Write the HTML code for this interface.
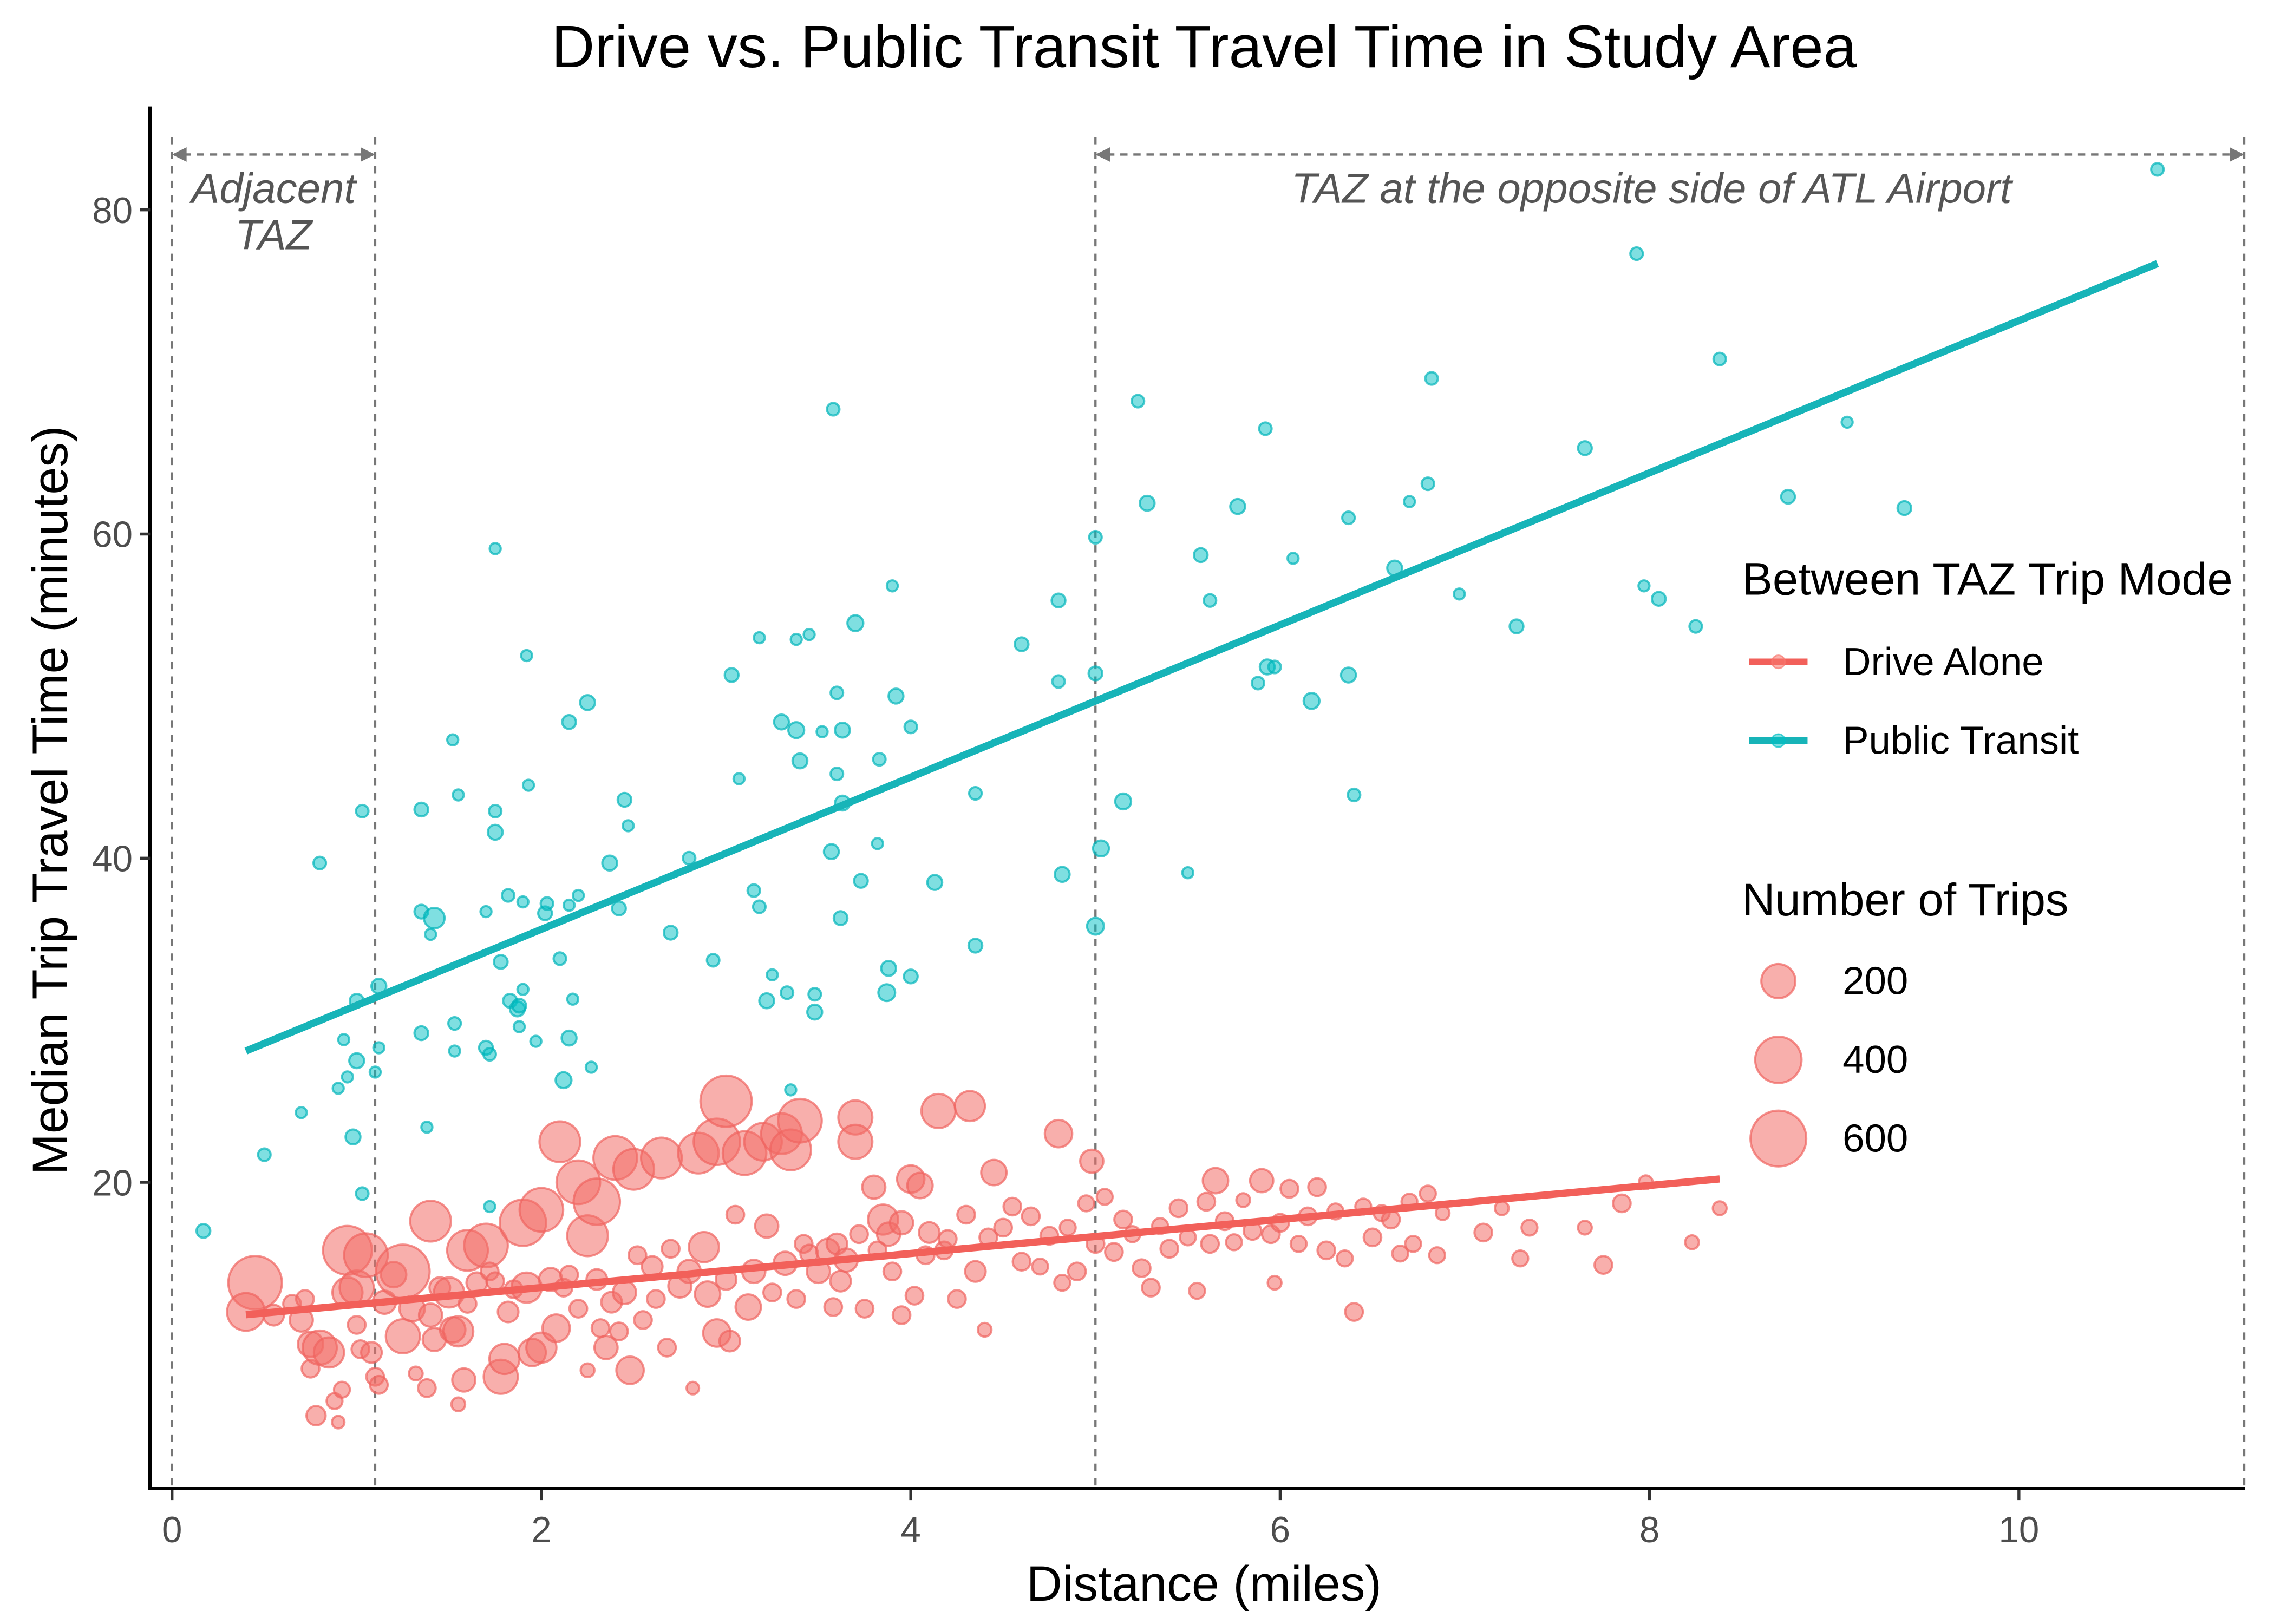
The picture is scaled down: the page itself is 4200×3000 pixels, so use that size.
<!DOCTYPE html>
<html><head><meta charset="utf-8"><style>
html,body{margin:0;padding:0;background:#fff;}
svg{display:block;font-family:"Liberation Sans",sans-serif;}
</style></head><body>
<svg id="chart" width="4200" height="3000" viewBox="0 0 1560 1114" preserveAspectRatio="none" xmlns="http://www.w3.org/2000/svg">
<rect width="1560" height="1114" fill="#fff"/>
<text x="826" y="46" font-size="41" text-anchor="middle" fill="#000">Drive vs. Public Transit Travel Time in Study Area</text>
<g id="plot"></g>
<line x1="103" y1="73" x2="103" y2="1022" stroke="#000" stroke-width="2.5"/>
<line x1="102" y1="1021" x2="1540" y2="1021" stroke="#000" stroke-width="2.5"/>
<g id="xticks"></g>
<g id="yticks"></g>
<text x="826" y="1098" font-size="34" text-anchor="middle">Distance (miles)</text>
<text transform="translate(46,549) rotate(-90)" font-size="34" text-anchor="middle">Median Trip Travel Time (minutes)</text>
<g>
<text x="1195" y="408" font-size="31.5">Between TAZ Trip Mode</text>
<g>
<line x1="1200" y1="454" x2="1240" y2="454" stroke="#F2605A" stroke-width="4.5"/>
<circle cx="1220" cy="454" r="4.5" fill="rgba(248,118,109,0.55)" stroke="rgba(248,118,109,0.7)"/>
<text x="1264" y="463" font-size="27">Drive Alone</text></g>
<g>
<line x1="1200" y1="508" x2="1240" y2="508" stroke="#17B4B8" stroke-width="4.5"/>
<circle cx="1220" cy="508" r="4.5" fill="rgba(0,191,196,0.5)" stroke="rgba(0,191,196,0.7)"/>
<text x="1264" y="517" font-size="27">Public Transit</text></g>
<text x="1195" y="628" font-size="31.5">Number of Trips</text>
<g id="sizeLegend"></g>
</g>
</svg>
<script>
const transitDist=[0.17,0.5,0.7,0.8,0.9,0.93,0.95,0.98,1.0,1.0,1.03,1.03,1.1,1.12,1.12,1.35,1.35,1.35,1.38,1.4,1.42,1.52,1.53,1.53,1.55,1.7,1.7,1.72,1.72,1.75,1.75,1.75,1.78,1.82,1.83,1.87,1.88,1.88,1.9,1.9,1.92,1.93,1.97,2.02,2.03,2.1,2.12,2.15,2.15,2.15,2.17,2.2,2.25,2.27,2.37,2.42,2.45,2.47,2.7,2.8,2.93,3.03,3.07,3.15,3.18,3.18,3.22,3.25,3.3,3.33,3.35,3.38,3.38,3.4,3.45,3.48,3.48,3.52,3.57,3.58,3.6,3.6,3.62,3.63,3.63,3.7,3.73,3.82,3.83,3.87,3.88,3.9,3.92,4.0,4.0,4.13,4.35,4.35,4.6,4.8,4.8,4.82,5.0,5.0,5.0,5.03,5.15,5.23,5.28,5.5,5.57,5.62,5.77,5.88,5.92,5.93,5.97,6.07,6.17,6.37,6.37,6.4,6.62,6.7,6.8,6.82,6.97,7.28,7.65,7.93,7.97,8.05,8.25,8.38,8.75,9.07,9.38,10.75];
const transitTime=[17,21.7,24.3,39.7,25.8,28.8,26.5,22.8,27.5,31.2,19.3,42.9,26.8,28.3,32.1,36.7,29.2,43,23.4,35.3,36.3,47.3,29.8,28.1,43.9,36.7,28.3,27.9,18.5,59.1,41.6,42.9,33.6,37.7,31.2,30.7,29.6,30.9,37.3,31.9,52.5,44.5,28.7,36.6,37.2,33.8,26.3,48.4,28.9,37.1,31.3,37.7,49.6,27.1,39.7,36.9,43.6,42,35.4,40,33.7,51.3,44.9,38,53.6,37,31.2,32.8,48.4,31.7,25.7,53.5,47.9,46,53.8,31.6,30.5,47.8,40.4,67.7,50.2,45.2,36.3,43.4,47.9,54.5,38.6,40.9,46.1,31.7,33.2,56.8,50,48.1,32.7,38.5,44,34.6,53.2,55.9,50.9,39,59.8,51.4,35.8,40.6,43.5,68.2,61.9,39.1,58.7,55.9,61.7,50.8,66.5,51.8,51.8,58.5,49.7,61,51.3,43.9,57.9,62,63.1,69.6,56.3,54.3,65.3,77.3,56.8,56,54.3,70.8,62.3,66.9,61.6,82.5];
const transitTrips=[20,15,10,15,10,10,10,25,25,20,15,15,10,10,25,20,20,20,10,10,60,10,15,10,10,10,20,15,10,10,25,15,20,15,20,25,10,20,10,10,10,10,10,20,15,15,30,20,25,10,10,10,25,10,25,20,20,10,20,15,15,20,10,15,10,15,25,10,25,15,10,10,30,25,10,15,25,10,25,15,15,15,20,25,25,30,20,10,15,35,25,10,25,15,20,25,15,20,20,20,15,25,15,20,35,30,30,15,25,10,20,15,25,15,15,25,15,10,30,15,25,15,25,10,15,15,10,20,20,15,10,20,15,15,20,10,20,15,20,10];
const driveDist=[0.45,0.4,0.55,0.65,0.7,0.72,0.75,0.75,0.8,0.78,0.85,0.88,0.9,0.92,0.95,0.95,1.0,1.0,1.02,1.05,1.08,1.1,1.12,1.15,1.2,1.25,1.25,1.3,1.32,1.38,1.4,1.4,1.42,1.45,1.5,1.52,1.55,1.55,1.58,1.6,1.6,1.65,1.7,1.72,1.75,1.78,1.8,1.82,1.85,1.9,1.92,1.95,2.0,2.0,2.05,2.08,2.1,2.12,2.15,2.2,2.2,2.25,2.25,2.3,2.3,2.32,2.35,2.38,2.4,2.42,2.45,2.48,2.5,2.52,2.55,2.6,2.62,2.65,2.68,2.7,2.75,2.8,2.82,2.85,2.88,2.9,2.95,2.95,3.0,3.0,3.02,3.05,3.1,3.12,3.15,3.2,3.22,3.25,3.3,3.32,3.35,3.38,3.4,3.42,3.45,3.5,3.55,3.58,3.6,3.62,3.65,3.7,3.7,3.72,3.75,3.8,3.82,3.85,3.88,3.9,3.95,3.95,4.0,4.02,4.05,4.08,4.1,4.15,4.18,4.2,4.25,4.3,4.32,4.35,4.4,4.42,4.45,4.5,4.55,4.6,4.65,4.7,4.75,4.8,4.82,4.85,4.9,4.95,4.98,5.0,5.05,5.1,5.15,5.2,5.25,5.3,5.35,5.4,5.45,5.5,5.55,5.6,5.62,5.65,5.7,5.75,5.8,5.85,5.9,5.95,5.97,6.0,6.05,6.1,6.15,6.2,6.25,6.3,6.35,6.4,6.45,6.5,6.55,6.6,6.65,6.7,6.72,6.8,6.85,6.88,7.1,7.2,7.3,7.35,7.65,7.75,7.85,7.98,8.23,8.38];
const driveTime=[13.8,12,11.8,12.5,11.5,12.8,10,8.5,9.8,5.6,9.5,6.5,5.2,7.2,15.8,13.2,13.5,11.2,9.7,15.5,9.5,8,7.5,12.6,14.3,14.5,10.5,12.2,8.2,7.3,17.6,11.8,10.3,13.5,13.2,10.9,10.8,6.3,7.8,15.8,12.5,13.8,16.1,14.5,13.9,8,9.1,12,13.4,17.5,13.5,9.5,18.3,9.8,14,11,22.5,13.5,14.3,20,12.2,16.7,8.4,18.8,14,11,9.8,12.6,21.5,10.8,13.2,8.4,20.8,15.5,11.5,14.8,12.8,21.5,9.8,15.9,13.6,14.5,7.3,21.8,16,13.1,22.5,10.7,25,14,10.2,18,21.8,12.3,14.5,22.5,17.3,13.2,23,15,22,12.8,23.8,16.2,15.6,14.5,15.8,12.3,16.2,13.9,15.2,24,22.5,16.8,12.2,19.7,15.8,17.7,16.8,14.5,17.5,11.8,20.2,13,19.8,15.5,16.9,24.4,15.8,16.5,12.8,18,24.7,14.5,10.9,16.6,20.6,17.2,18.5,15.1,17.9,14.8,16.7,23,13.8,17.2,14.5,18.7,21.3,16.2,19.1,15.7,17.7,16.8,14.7,13.5,17.3,15.9,18.4,16.6,13.3,18.8,16.2,20.1,17.6,16.3,18.9,17,20.1,16.8,13.8,17.5,19.6,16.2,17.9,19.7,15.8,18.2,15.3,12,18.5,16.6,18.1,17.7,15.6,18.8,16.2,19.3,15.5,18.1,16.9,18.4,15.3,17.2,17.2,14.9,18.7,20,16.3,18.4];
const driveTrips=[550,250,60,40,80,40,100,40,200,50,150,30,15,30,450,150,200,40,40,350,60,40,40,80,100,550,200,100,20,40,300,80,80,60,150,100,150,20,80,300,40,60,350,40,40,200,150,60,40,400,150,120,350,150,80,120,300,40,40,350,40,300,20,400,60,40,80,60,350,40,80,120,300,40,40,60,40,300,40,40,80,80,15,300,150,100,400,120,500,60,60,40,350,100,80,250,80,40,300,80,300,40,350,40,40,80,80,40,60,60,80,200,200,40,40,80,40,150,80,40,80,40,120,40,100,40,60,200,40,40,40,40,150,60,20,40,100,40,40,40,40,30,40,120,30,30,40,30,80,40,30,40,40,30,40,40,30,40,40,30,30,40,40,100,40,30,20,40,80,40,20,40,40,30,40,40,40,30,30,40,30,40,30,40,30,30,30,30,30,20,40,20,30,30,20,40,40,20,20,20];
const xTicks=[0,2,4,6,8,10];
const yTicks=[20,40,60,80];
const refLines=[0,1.1,5.0,11.22];
const sizeLegendValues=[200,400,600];

const NS="http://www.w3.org/2000/svg";
const X=v=>118+v*126.7;
const Y=v=>811-(v-20)*11.117;
const R=n=>1.5+0.72*Math.sqrt(n);
function mk(tag,attrs,parent){const e=document.createElementNS(NS,tag);for(const k in attrs)e.setAttribute(k,attrs[k]);parent.appendChild(e);return e;}
const plot=document.getElementById('plot');

refLines.forEach((v,i)=>{
 const l=mk('line',{x1:X(v),x2:X(v),y1:94,y2:1021,stroke:'#777','stroke-width':1.6,'stroke-dasharray':'5,5'},plot);
 
 
});
const ann=mk('g',{},plot);


function arrow(x1,x2,y){
 mk('line',{x1:x1+8,x2:x2-8,y1:y,y2:y,stroke:'#777','stroke-width':1.6,'stroke-dasharray':'5,4'},ann);
 mk('path',{d:`M${x1} ${y} l10 -5 v10 z M${x2} ${y} l-10 -5 v10 z`,fill:'#777'},ann);
}
arrow(X(0),X(1.1),106);
arrow(X(5.0),X(11.22),106);
const t1=mk('text',{x:(X(0)+X(1.1))/2,y:139,'font-size':29,'font-style':'italic','text-anchor':'middle',fill:'#555'},ann);t1.textContent='Adjacent';
const t2=mk('text',{x:(X(0)+X(1.1))/2,y:171,'font-size':29,'font-style':'italic','text-anchor':'middle',fill:'#555'},ann);t2.textContent='TAZ';
const t3=mk('text',{x:1133,y:139,'font-size':29,'font-style':'italic','text-anchor':'middle',fill:'#555'},ann);t3.textContent='TAZ at the opposite side of ATL Airport';

function drawSeries(dist,time,trips,fill,stroke,name){
 const g=mk('g',{},plot);
 
 
 dist.forEach((d,i)=>{
  const c=mk('circle',{cx:X(d),cy:Y(time[i]),r:R(trips[i]),fill:fill,stroke:stroke,'stroke-width':1.5},g);
  
  
 });
}
const fitStart=Math.min(...driveDist);
function fitLine(dist,time,color,name,x0,x1){
 const n=dist.length;let sx=0,sy=0,sxx=0,sxy=0;
 for(let i=0;i<n;i++){sx+=dist[i];sy+=time[i];sxx+=dist[i]*dist[i];sxy+=dist[i]*time[i];}
 const b=(n*sxy-sx*sy)/(n*sxx-sx*sx),a=(sy-b*sx)/n;
 const l=mk('line',{x1:X(x0),y1:Y(a+b*x0),x2:X(x1),y2:Y(a+b*x1),stroke:color,'stroke-width':5},plot);
 
 
}
drawSeries(transitDist,transitTime,transitTrips,'rgba(0,191,196,0.5)','rgba(0,180,185,0.7)','transit');
drawSeries(driveDist,driveTime,driveTrips,'rgba(243,110,104,0.55)','rgba(240,100,95,0.7)','drive');
fitLine(transitDist,transitTime,'#17B4B8','transit',fitStart,Math.max(...transitDist));
fitLine(driveDist,driveTime,'#F2605A','drive',fitStart,Math.max(...driveDist));

const xt=document.getElementById('xticks');
xTicks.forEach(v=>{
 mk('line',{x1:X(v),x2:X(v),y1:1022,y2:1029,stroke:'#333','stroke-width':2},xt);
 const t=mk('text',{x:X(v),y:1058,'font-size':25,'text-anchor':'middle',fill:'#4d4d4d'},xt);
 t.textContent=v;
 
 
});
const yt=document.getElementById('yticks');
yTicks.forEach(v=>{
 mk('line',{x1:96,x2:103,y1:Y(v),y2:Y(v),stroke:'#333','stroke-width':2},yt);
 const t=mk('text',{x:91,y:Y(v)+9,'font-size':25,'text-anchor':'end',fill:'#4d4d4d'},yt);
 t.textContent=v;
 
 
});
const sl=document.getElementById('sizeLegend');
sizeLegendValues.forEach((v,i)=>{
 const cy=673+i*54;
 const c=mk('circle',{cx:1220,cy:cy,r:R(v),fill:'rgba(243,110,104,0.55)',stroke:'rgba(240,100,95,0.7)','stroke-width':1.5},sl);
 
 
 const t=mk('text',{x:1264,y:cy+9,'font-size':27},sl);
 t.textContent=v;
 
 
});
</script>
</body></html>
